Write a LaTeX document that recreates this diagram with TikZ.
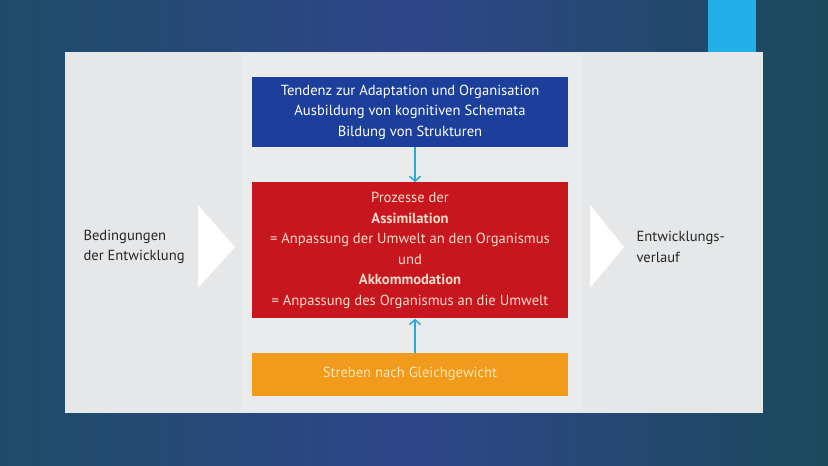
\documentclass[tikz,border=0pt]{standalone}
\usepackage{fontspec}
\setmainfont{PT Sans}
\usepackage{tikz}
\usetikzlibrary{arrows.meta}
\usetikzlibrary{positioning}

\definecolor{slidetealL}{HTML}{1E4C68}
\definecolor{slideblue}{HTML}{2F4689}
\definecolor{slidetealR}{HTML}{1B4A5C}
\definecolor{accentcyan}{HTML}{22AEE6}
\definecolor{paper}{HTML}{E5E7E9}
\definecolor{paperband}{HTML}{EAEBED}
\definecolor{boxblue}{HTML}{1C3F9B}
\definecolor{boxred}{HTML}{C8161F}
\definecolor{boxorange}{HTML}{F29A1C}
\definecolor{redtext}{HTML}{F8DCCB}
\definecolor{orangetext}{HTML}{FCE8B6}
\definecolor{arrowcyan}{HTML}{2BA9D6}

\begin{document}
\begin{tikzpicture}[x=1pt,y=-1pt,node distance=35pt,
	font=\fontsize{14.6}{20.5}\selectfont,
	stage box/.style={rectangle,minimum width=316pt,align=center,inner sep=2pt},
	side label/.style={anchor=west,align=left,text=black!85},
	flow/.style={draw=arrowcyan,line width=1.5pt,-{Straight Barb[length=5pt,width=11pt,line width=1.5pt]}}]

	% slide background and paper
	\useasboundingbox (0,0) rectangle (828,466);
	\shade[left color=slidetealL,right color=slidetealR,middle color=slideblue] (0,0) rectangle (828,466);
	\fill[accentcyan] (708,0) rectangle (756,53);
	\fill[paper] (65,52) rectangle (763,413);
	\fill[paperband] (242,54) rectangle (582,411);

	\node[stage box,fill=boxblue,text=white,minimum height=70pt] (adapt) at (410,112)
		{Tendenz zur Adaptation und Organisation\\Ausbildung von kognitiven Schemata\\Bildung von Strukturen};
	\node[stage box,fill=boxred,text=redtext,minimum height=136pt] (process) [below=35pt of adapt]
		{Prozesse der\\\textbf{Assimilation}\\= Anpassung der Umwelt an den Organismus\\und\\\textbf{Akkommodation}\\= Anpassung des Organismus an die Umwelt};
	\node[stage box,fill=boxorange,text=orangetext,minimum height=43pt] (balance) [below=34pt of process]
		{Streben nach Gleichgewicht};

	\node[side label] (cond) at (80,247) {Bedingungen\\der Entwicklung};
	\node[side label] (course) at (633,247) {Entwicklungs-\\verlauf};

	% white chevrons
	\fill[white] (198,205) -- (235,247) -- (198,288) -- cycle;
	\fill[white] (590,205) -- (624,247) -- (590,288) -- cycle;

	\draw[flow] ([xshift=5pt]adapt.south) -- ([xshift=5pt]process.north);
	\draw[flow] ([xshift=5pt]balance.north) -- ([xshift=5pt]process.south);

\end{tikzpicture}
\end{document}
